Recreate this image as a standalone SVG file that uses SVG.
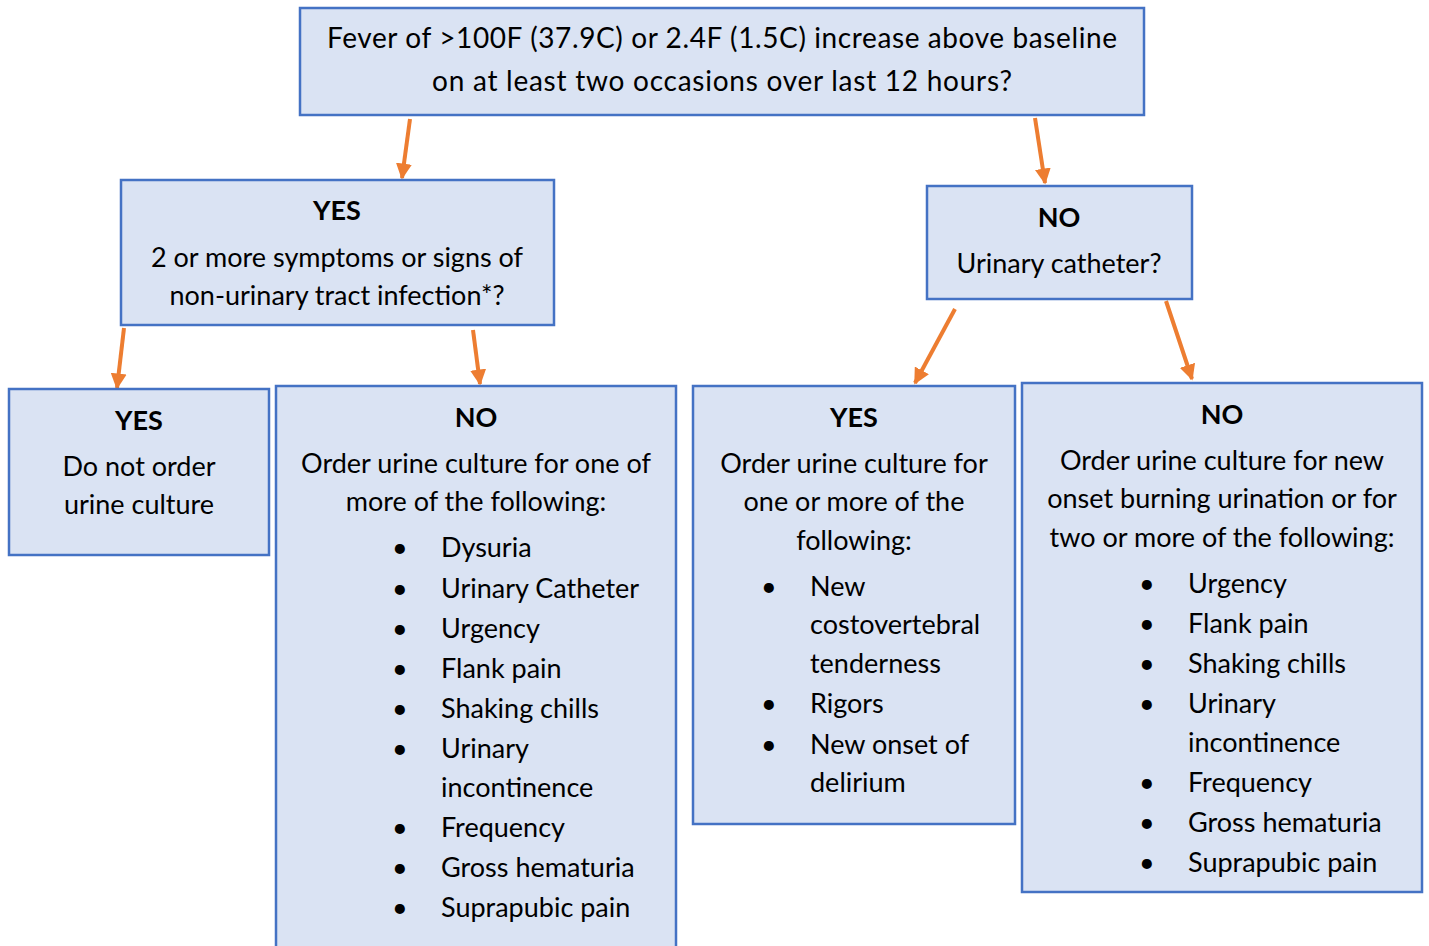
<svg xmlns="http://www.w3.org/2000/svg" width="1429" height="946" viewBox="0 0 1429 946">
<defs>
<style>
.box{fill:#DAE3F3;stroke:#4472C4;stroke-width:2.5}
text{font-family:Lato,"Open Sans","Liberation Sans",sans-serif;font-size:27px;fill:#000}
.t{font-size:28px}
.c{text-anchor:middle}
.b{font-weight:bold}
.conn line{stroke:#ED7D31;stroke-width:4}
</style>
<marker id="ah" viewBox="0 0 10 10" refX="9" refY="5" markerWidth="4" markerHeight="4" orient="auto" markerUnits="strokeWidth">
<path d="M0,0 L10,5 L0,10 z" fill="#ED7D31"/>
</marker>
</defs>
<rect width="1429" height="946" fill="#fff"/>
<g class="conn">
<line x1="410" y1="119" x2="402" y2="178" marker-end="url(#ah)"/>
<line x1="1035" y1="118" x2="1045" y2="183" marker-end="url(#ah)"/>
<line x1="124" y1="328" x2="117" y2="388" marker-end="url(#ah)"/>
<line x1="473" y1="330" x2="480" y2="384" marker-end="url(#ah)"/>
<line x1="955" y1="309" x2="915" y2="383" marker-end="url(#ah)"/>
<line x1="1166" y1="301" x2="1192" y2="379" marker-end="url(#ah)"/>
</g>
<g id="top">
<rect class="box" x="300" y="8" width="844" height="107"/>
<text class="c t" x="722" y="48" textLength="790">Fever of &gt;100F (37.9C) or 2.4F (1.5C) increase above baseline</text>
<text class="c t" x="722" y="91" textLength="580">on at least two occasions over last 12 hours?</text>
</g>
<g id="yes1">
<rect class="box" x="121" y="180" width="433" height="145"/>
<text class="c b" x="337" y="220">YES</text>
<text class="c" x="337" y="267">2 or more symptoms or signs of</text>
<text class="c" x="337" y="305">non-urinary tract infection*?</text>
</g>
<g id="no1">
<rect class="box" x="927" y="186" width="265" height="113"/>
<text class="c b" x="1059" y="227">NO</text>
<text class="c" x="1059" y="273">Urinary catheter?</text>
</g>
<g id="yes2">
<rect class="box" x="9" y="389" width="260" height="166"/>
<text class="c b" x="139" y="430">YES</text>
<text class="c" x="139" y="476">Do not order</text>
<text class="c" x="139" y="514">urine culture</text>
</g>
<g id="no2">
<rect class="box" x="276" y="386" width="400" height="570"/>
<text class="c b" x="476" y="427">NO</text>
<text class="c" x="476" y="473">Order urine culture for one of</text>
<text class="c" x="476" y="511">more of the following:</text>
<g>
<text x="392" y="557">•</text><text x="441" y="557">Dysuria</text>
<text x="392" y="598">•</text><text x="441" y="598">Urinary Catheter</text>
<text x="392" y="638">•</text><text x="441" y="638">Urgency</text>
<text x="392" y="678">•</text><text x="441" y="678">Flank pain</text>
<text x="392" y="718">•</text><text x="441" y="718">Shaking chills</text>
<text x="392" y="758">•</text><text x="441" y="758">Urinary</text>
<text x="441" y="797">incontinence</text>
<text x="392" y="837">•</text><text x="441" y="837">Frequency</text>
<text x="392" y="877">•</text><text x="441" y="877">Gross hematuria</text>
<text x="392" y="917">•</text><text x="441" y="917">Suprapubic pain</text>
</g>
</g>
<g id="yes3">
<rect class="box" x="693" y="386" width="322" height="438"/>
<text class="c b" x="854" y="427">YES</text>
<text class="c" x="854" y="473">Order urine culture for</text>
<text class="c" x="854" y="511">one or more of the</text>
<text class="c" x="854" y="550">following:</text>
<text x="761" y="596">•</text><text x="810" y="596">New</text>
<text x="810" y="634">costovertebral</text>
<text x="810" y="673">tenderness</text>
<text x="761" y="713">•</text><text x="810" y="713">Rigors</text>
<text x="761" y="754">•</text><text x="810" y="754">New onset of</text>
<text x="810" y="792">delirium</text>
</g>
<g id="no3">
<rect class="box" x="1022" y="383" width="400" height="509"/>
<text class="c b" x="1222" y="424">NO</text>
<text class="c" x="1222" y="470">Order urine culture for new</text>
<text class="c" x="1222" y="508">onset burning urination or for</text>
<text class="c" x="1222" y="547">two or more of the following:</text>
<text x="1139" y="593">•</text><text x="1188" y="593">Urgency</text>
<text x="1139" y="633">•</text><text x="1188" y="633">Flank pain</text>
<text x="1139" y="673">•</text><text x="1188" y="673">Shaking chills</text>
<text x="1139" y="713">•</text><text x="1188" y="713">Urinary</text>
<text x="1188" y="752">incontinence</text>
<text x="1139" y="792">•</text><text x="1188" y="792">Frequency</text>
<text x="1139" y="832">•</text><text x="1188" y="832">Gross hematuria</text>
<text x="1139" y="872">•</text><text x="1188" y="872">Suprapubic pain</text>
</g>
</svg>
